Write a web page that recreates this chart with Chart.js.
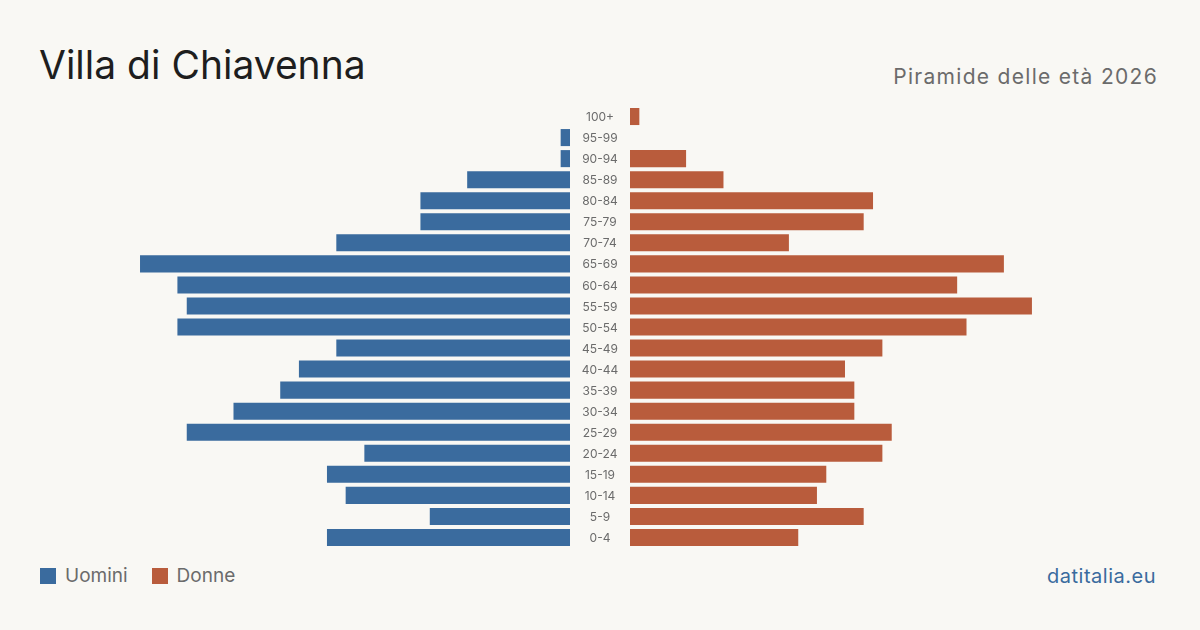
<!DOCTYPE html>
<html>
<head>
<meta charset="utf-8">
<script src="https://cdn.jsdelivr.net/npm/chart.js@4/dist/chart.umd.min.js"></script>
<style>
  html, body { margin:0; padding:0; }
  body { width:1200px; height:630px; background:#f9f8f4; position:relative; overflow:hidden; font-family: Inter, "Noto Sans", sans-serif; }
  #title { position:absolute; left:39px; top:45px; font-size:39px; color:#1e1e1e; line-height:1; letter-spacing:0px; }
  #subtitle { position:absolute; right:42px; top:66px; font-size:21px; color:#6b6b6b; line-height:1; letter-spacing:1.3px; }
  #legend { position:absolute; left:40px; top:566px; font-size:19px; color:#6b6b6b; line-height:20px; display:flex; align-items:center; }
  .sw { display:inline-block; width:16px; height:16px; margin-right:9px; }
  .item { display:flex; align-items:center; margin-right:24px; }
  #source { position:absolute; right:44px; top:566px; font-size:20px; color:#3a6b9e; line-height:1; letter-spacing:0.5px; }
  #left { position:absolute; left:40px; top:106px; width:590px; height:442px; }
  #right { position:absolute; left:630px; top:106px; width:530px; height:442px; }
</style>
</head>
<body>
<div id="title">Villa di Chiavenna</div>
<div id="subtitle">Piramide delle età 2026</div>
<div id="legend">
  <div class="item"><span class="sw" style="background:#3a6b9e"></span>Uomini</div>
  <div class="item"><span class="sw" style="background:#b95c3c"></span>Donne</div>
</div>
<div id="source">datitalia.eu</div>
<div id="left"><canvas id="cl"></canvas></div>
<div id="right"><canvas id="cr"></canvas></div>
<script>
const ageGroups = ['100+','95-99','90-94','85-89','80-84','75-79','70-74','65-69','60-64','55-59','50-54','45-49','40-44','35-39','30-34','25-29','20-24','15-19','10-14','5-9','0-4'];
const men   = [0, 1, 1, 11, 16, 16, 25, 46, 42, 41, 42, 25, 29, 31, 36, 41, 22, 26, 24, 15, 26];
const women = [1, 0, 6, 10, 26, 25, 17, 40, 35, 43, 36, 27, 23, 24, 24, 28, 27, 21, 20, 25, 18];
const axisMax = 56.7;
const menColor = '#3a6b9e';
const womenColor = '#b95c3c';

const labelPlugin = {
  id: 'centerLabels',
  afterDraw(chart) {
    const ctx = chart.ctx;
    const y = chart.scales.y;
    const x = chart.chartArea.right + 30;
    ctx.save();
    ctx.font = '12px Inter, "Noto Sans", sans-serif';
    ctx.fillStyle = '#6b6b6b';
    ctx.textAlign = 'center';
    ctx.textBaseline = 'middle';
    ageGroups.forEach((lab, i) => {
      ctx.fillText(lab, x, y.getPixelForValue(i) + 1);
    });
    ctx.restore();
  }
};

function makeChart(id, data, color, reverse, padRight) {
  return new Chart(document.getElementById(id), {
    type: 'bar',
    data: {
      labels: ageGroups,
      datasets: [{ data: data, backgroundColor: color, borderWidth: 0,
        categoryPercentage: 1, barPercentage: 0.81 }]
    },
    options: {
      indexAxis: 'y',
      responsive: true,
      maintainAspectRatio: false,
      animation: false,
      layout: { padding: { left: 0, right: padRight, top: 0, bottom: 0 } },
      plugins: { legend: { display: false }, tooltip: { enabled: false } },
      scales: {
        x: { display: false, min: 0, max: axisMax, reverse: reverse },
        y: { display: false }
      }
    },
    plugins: reverse ? [labelPlugin] : []
  });
}
makeChart('cl', men, menColor, true, 60);
makeChart('cr', women, womenColor, false, 0);
</script>
</body>
</html>
